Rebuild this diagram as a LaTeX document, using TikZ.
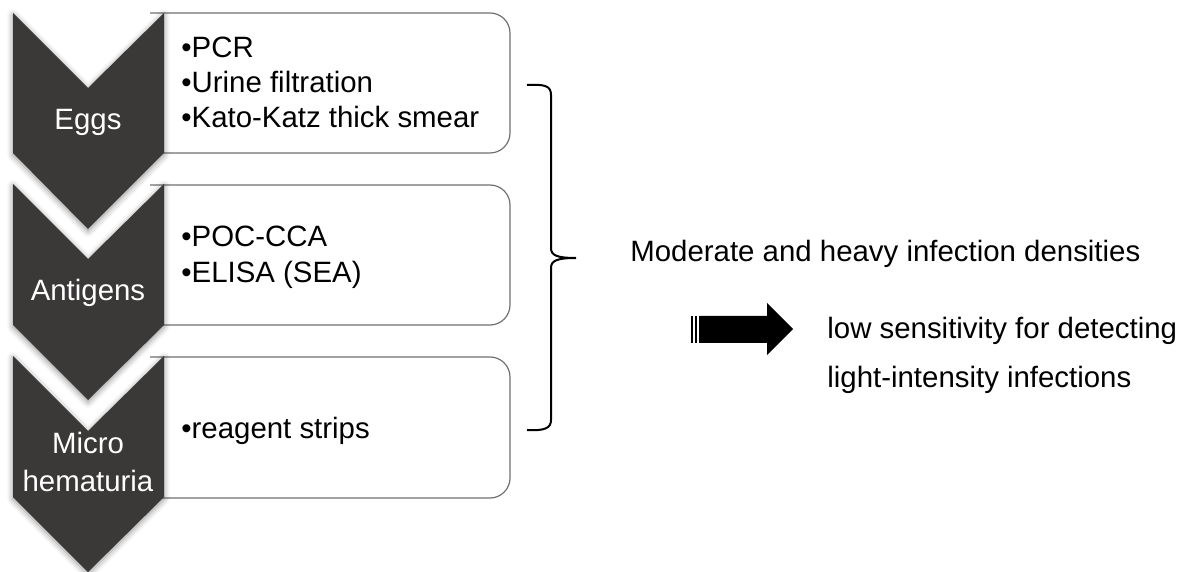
\documentclass[tikz,border=0pt]{standalone}
\usepackage{fontspec}
\setmainfont{Liberation Sans}
\usetikzlibrary{shadows.blur}
\definecolor{chev}{HTML}{3B3838}
\definecolor{boxgray}{HTML}{707070}
\begin{document}
\begin{tikzpicture}[x=0.5pt,y=-0.5pt,
  chevshape/.style={fill=chev, blur shadow={shadow xshift=0pt, shadow yshift=-1pt, shadow blur radius=3pt, shadow opacity=45}},
  boxline/.style={draw=boxgray, line width=0.6pt, rounded corners=10pt},
  itemtext/.style={anchor=base west, inner sep=0pt, font=\fontsize{14.7}{17}\selectfont},
  chevtext/.style={anchor=base, inner sep=0pt, text=white, font=\fontsize{14.7}{17}\selectfont},
  bracestyle/.style={draw=black, line width=1pt}]
\useasboundingbox (0,0) rectangle (1179,572);
% boxes
\draw[boxline] (150,13) -- (510,13) -- (510,153) -- (150,153);
\draw[boxline] (150,185) -- (510,185) -- (510,325) -- (150,325);
\draw[boxline] (150,357) -- (510,357) -- (510,498) -- (150,498);
% chevrons
\path[chevshape] (13,13) -- (88,88) -- (164,13) -- (164,153) -- (88,229) -- (13,153) -- cycle;
\path[chevshape] (13,184) -- (88,259) -- (164,184) -- (164,325) -- (88,400) -- (13,325) -- cycle;
\path[chevshape] (13,356) -- (88,431) -- (164,356) -- (164,497) -- (88,572) -- (13,497) -- cycle;
% chevron labels
\node[chevtext] (eggs) at (88,130) {Eggs};
\node[chevtext] (antigens) at (88,301) {Antigens};
\node[chevtext] (micro) at (88,453) {Micro};
\node[chevtext] (hema) at (88,491) {hematuria};
% items
\node[itemtext] (i1) at (181,58) {•PCR};
\node[itemtext] (i2) at (181,93) {•Urine filtration};
\node[itemtext] (i3) at (181,128) {•Kato-Katz thick smear};
\node[itemtext] (i4) at (181,247) {•POC-CCA};
\node[itemtext] (i5) at (181,283) {•ELISA (SEA)};
\node[itemtext] (i6) at (181,438) {•reagent strips};
% brace
\draw[bracestyle] (527,85) .. controls (545,84) and (551,86) .. (551,95) -- (551,248)
  .. controls (551,255) and (556,258) .. (576,258)
  .. controls (556,258) and (551,261) .. (551,268) -- (551,420)
  .. controls (551,428) and (545,431) .. (527,430);
% right texts
\node[itemtext] (mod) at (630,262) {Moderate and heavy infection densities};
\node[itemtext] (low1) at (827,339) {low sensitivity for detecting};
\node[itemtext] (low2) at (827,387) {light-intensity infections};
% striped arrow
\fill (691,316) rectangle (693,343);
\fill (695,316) rectangle (697,343);
\fill (699,316) -- (767,316) -- (767,303) -- (793,329) -- (767,355) -- (767,343) -- (699,343) -- cycle;
\end{tikzpicture}
\end{document}
